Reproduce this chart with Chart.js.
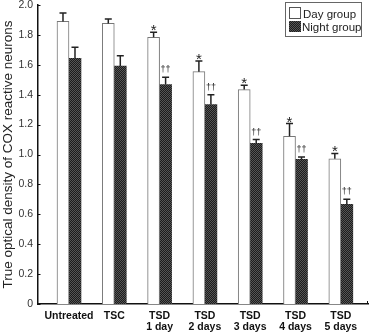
<!DOCTYPE html>
<html><head><meta charset="utf-8">
<script src="https://cdn.jsdelivr.net/npm/chart.js@4"></script>
<style>html,body{margin:0;padding:0;background:#fff}#wrap{width:369px;height:334px}</style>
</head><body><div id="wrap"><canvas id="c" width="369" height="334"></canvas></div>
<script>
const categories = [["Untreated"],["TSC"],["TSD","1 day"],["TSD","2 days"],["TSD","3 days"],["TSD","4 days"],["TSD","5 days"]];
const dayValues   = [1.89, 1.877, 1.784, 1.554, 1.434, 1.122, 0.971];
const dayErrors   = [0.057, 0.03, 0.033, 0.071, 0.029, 0.085, 0.036];
const nightValues = [1.643, 1.592, 1.468, 1.334, 1.075, 0.967, 0.666];
const nightErrors = [0.074, 0.069, 0.048, 0.065, 0.025, 0.017, 0.034];
const dayMarks    = ["", "", "*", "*", "*", "*", "*"];
const nightMarks  = ["", "", "††", "††", "††", "††", "††"];
const yTicks = [0, 0.2, 0.4, 0.6, 0.8, 1.0, 1.2, 1.4, 1.6, 1.8, 2.0];

function makePattern() {
  const p = document.createElement('canvas'); p.width = 2; p.height = 2;
  const g = p.getContext('2d');
  g.fillStyle = '#1c1c1c'; g.fillRect(0,0,2,2);
  g.fillStyle = '#555'; g.fillRect(0,0,1,1); g.fillRect(1,1,1,1);
  return g.createPattern(p, 'repeat');
}
const ctx = document.getElementById('c').getContext('2d');
const nightFill = makePattern();

const errorPlugin = {
  id: 'errs',
  afterDatasetsDraw(chart) {
    const c = chart.ctx, y = chart.scales.y;
    const sets = [[dayErrors, dayMarks], [nightErrors, nightMarks]];
    sets.forEach((s, di) => {
      const meta = chart.getDatasetMeta(di);
      const vals = chart.data.datasets[di].data;
      meta.data.forEach((bar, i) => {
        const v = vals[i].y, e = s[0][i];
        const yTop = y.getPixelForValue(v + e), yBar = y.getPixelForValue(v);
        c.save();
        c.strokeStyle = '#222'; c.lineWidth = 1.5;
        c.beginPath();
        c.moveTo(bar.x, yBar); c.lineTo(bar.x, yTop);
        c.moveTo(bar.x - 3.5, yTop); c.lineTo(bar.x + 3.5, yTop);
        c.stroke();
        const m = s[1][i];
        if (m) {
          c.fillStyle = '#222';
          c.font = (di === 0 ? '15px' : '9px') + ' "Liberation Sans", Arial, sans-serif';
          c.textAlign = 'center'; c.textBaseline = 'alphabetic';
          c.fillText(m, bar.x, yTop + (di === 0 ? 3 : -5));
        }
        c.restore();
      });
    });
  }
};

const axisPlugin = {
  id: 'axisExtras',
  afterDraw(chart) {
    const c = chart.ctx, a = chart.chartArea, y = chart.scales.y;
    c.save();
    c.strokeStyle = '#111'; c.lineWidth = 1;
    c.beginPath();
    yTicks.forEach(t => { const py = Math.round(y.getPixelForValue(t)) + 0.5; c.moveTo(a.left, py); c.lineTo(a.left + 2.5, py); });
    c.moveTo(a.right - 0.5, a.bottom); c.lineTo(a.right - 0.5, a.bottom - 3);
    c.stroke();
    // legend
    c.strokeStyle = '#666'; c.lineWidth = 1;
    c.strokeRect(285.5, 2.5, 76, 34);
    c.fillStyle = '#fff'; c.strokeStyle = '#555';
    c.fillRect(289.5, 7.5, 11, 11); c.strokeRect(289.5, 7.5, 11, 11);
    c.fillStyle = nightFill; c.fillRect(289, 21, 12, 11);
    c.fillStyle = '#222';
    c.font = '11.5px "Liberation Sans", Arial, sans-serif';
    c.textAlign = 'left'; c.textBaseline = 'alphabetic';
    c.fillText(chart.data.datasets[0].label, 303, 17.5);
    c.fillText(chart.data.datasets[1].label, 302, 31);
    c.restore();
  }
};

new Chart(ctx, {
  type: 'bar',
  data: {
    datasets: [
      { label: 'Day group', data: dayValues.map((v,i)=>({x:i, y:v})), backgroundColor: '#fff', borderColor: '#777', borderWidth: 1, barThickness: 12 },
      { label: 'Night group', data: nightValues.map((v,i)=>({x:i, y:v})), backgroundColor: nightFill, borderWidth: 0, barThickness: 12 }
    ]
  },
  options: {
    responsive: false, animation: false,
    layout: { padding: { top: 0, right: 1, left: 0, bottom: 0 } },
    plugins: { legend: { display: false }, tooltip: { enabled: false } },
    scales: {
      x: {
        type: 'linear', min: -0.684, max: 6.6, offset: false,
        afterBuildTicks: s => { s.ticks = categories.map((_, i) => ({ value: i })); },
        afterFit: s => { s.height = 30; },
        grid: { display: false, drawTicks: false },
        border: { display: true, color: '#111', width: 1.5 },
        ticks: {
          autoSkip: false, maxRotation: 0, padding: 6, color: '#111',
          font: { family: '"Liberation Sans", Arial, sans-serif', size: 10.5, weight: 'bold', lineHeight: 1.1 },
          callback: v => categories[v]
        }
      },
      y: {
        min: 0, max: 2.0,
        afterBuildTicks: s => { s.ticks = yTicks.map(v => ({ value: v })); },
        afterFit: s => { s.width = 38; s.paddingTop = 5; s.paddingBottom = 0; },
        grid: { display: false, drawTicks: false },
        border: { display: true, color: '#111', width: 1.5 },
        ticks: {
          padding: 5, color: '#333',
          font: { family: '"Liberation Sans", Arial, sans-serif', size: 10.5, lineHeight: 1 },
          callback: v => v === 0 ? '0' : v.toFixed(1)
        },
        title: {
          display: true, text: 'True optical density of COX reactive neurons', color: '#222',
          padding: { top: 0, bottom: 0 },
          font: { family: '"Liberation Sans", Arial, sans-serif', size: 13.5 }
        }
      }
    }
  },
  plugins: [errorPlugin, axisPlugin]
});
</script></body></html>
